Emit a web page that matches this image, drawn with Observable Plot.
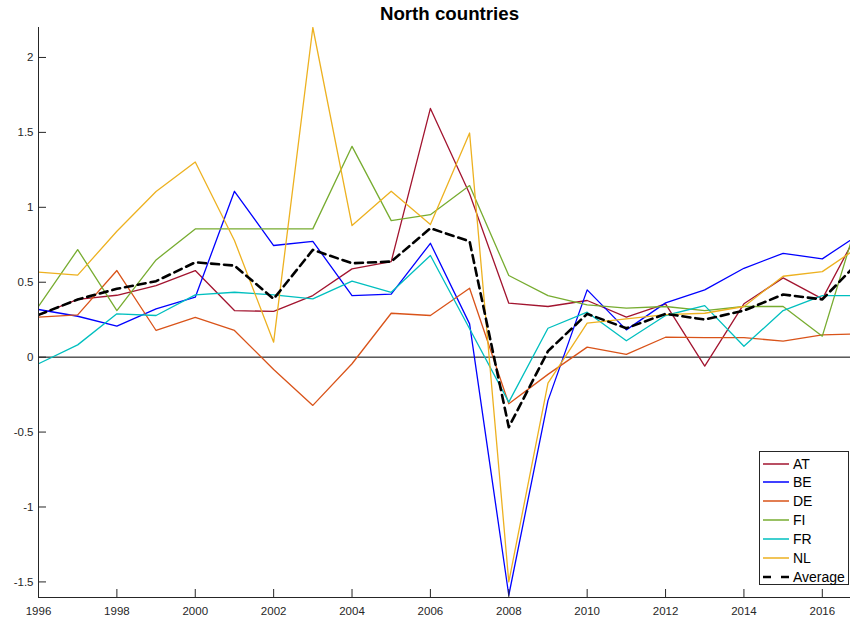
<!DOCTYPE html>
<html>
<head>
<meta charset="utf-8">
<script src="https://cdn.jsdelivr.net/npm/d3@7"></script>
<script src="https://cdn.jsdelivr.net/npm/@observablehq/plot@0.6"></script>
<style>
  html, body { margin: 0; padding: 0; background: #fff; overflow: hidden; }
  #wrap { position: relative; width: 850px; height: 621px; overflow: hidden; font-family: "Liberation Sans", Arial, Helvetica, sans-serif; }
  #chart { position: absolute; left: 0; top: 0; width: 862px; }
  #chart svg { max-width: none !important; }
  #title { position: absolute; top: 3px; left: 38px; width: 823px; text-align: center; font-weight: bold; font-size: 18.7px; color: #000; }
  #legend { position: absolute; left: 759px; top: 451px; width: 88px; height: 132px; border: 1px solid #262626; background: #fff; }
  .lg-row { position: absolute; left: 0; height: 19px; display: flex; align-items: center; font-size: 14px; color: #000; }
  .lg-row svg { margin-left: 3px; margin-right: 4px; }
</style>
</head>
<body>
<div id="wrap">
  <div id="chart"></div>
  <div id="title">North countries</div>
  <div id="legend"></div>
</div>
<script>
const years = d3.range(1996, 2018);
const seriesNames = ["AT", "BE", "DE", "FI", "FR", "NL", "Average"];
const seriesColors = ["#A2142F", "#0000FF", "#D95319", "#77AC30", "#00BFBF", "#EDB120", "#000000"];

const AT  = [0.28, 0.385, 0.413, 0.478, 0.578, 0.311, 0.305, 0.411, 0.589, 0.638, 1.66, 1.09, 0.36, 0.338, 0.378, 0.267, 0.356, -0.06, 0.356, 0.529, 0.389, 0.88];
const BE  = [0.318, 0.273, 0.207, 0.322, 0.40, 1.107, 0.745, 0.773, 0.411, 0.42, 0.76, 0.222, -1.589, -0.29, 0.449, 0.182, 0.362, 0.449, 0.593, 0.693, 0.656, 0.83];
const DE  = [0.267, 0.282, 0.578, 0.178, 0.265, 0.178, -0.082, -0.322, -0.044, 0.293, 0.278, 0.46, -0.311, -0.115, 0.067, 0.018, 0.133, 0.13, 0.13, 0.107, 0.149, 0.155];
const FI  = [0.338, 0.718, 0.311, 0.649, 0.856, 0.856, 0.856, 0.856, 1.407, 0.911, 0.951, 1.145, 0.545, 0.411, 0.349, 0.327, 0.338, 0.311, 0.338, 0.338, 0.14, 1.0];
const FR  = [-0.044, 0.082, 0.289, 0.278, 0.416, 0.433, 0.416, 0.389, 0.507, 0.433, 0.678, 0.19, -0.3, 0.193, 0.3, 0.109, 0.278, 0.344, 0.073, 0.311, 0.411, 0.411];
const NL  = [0.567, 0.547, 0.84, 1.105, 1.302, 0.778, 0.1, 2.2, 0.878, 1.107, 0.885, 1.496, -1.5, -0.173, 0.227, 0.256, 0.284, 0.293, 0.338, 0.54, 0.571, 0.748];
const Average = [0.282, 0.385, 0.456, 0.507, 0.633, 0.611, 0.389, 0.716, 0.627, 0.638, 0.86, 0.773, -0.467, 0.04, 0.289, 0.193, 0.289, 0.251, 0.311, 0.418, 0.385, 0.655];

const xTicks = [1996, 1998, 2000, 2002, 2004, 2006, 2008, 2010, 2012, 2014, 2016];
const yTicks = [-1.5, -1, -0.5, 0, 0.5, 1, 1.5, 2];

const valuesBy = {AT, BE, DE, FI, FR, NL, Average};
const rows = [];
for (const name of seriesNames) {
  valuesBy[name].forEach((v, i) => rows.push({series: name, year: years[i], value: v}));
}
const countryRows = rows.filter(d => d.series !== "Average");
const avgRows = rows.filter(d => d.series === "Average");

const axisColor = "#262626";

const plot = Plot.plot({
  width: 862,
  height: 621,
  marginLeft: 38,
  marginRight: 1,
  marginTop: 27,
  marginBottom: 24,
  style: {fontFamily: "'Liberation Sans', Arial, Helvetica, sans-serif", fontSize: "11.5px", color: axisColor, background: "transparent", maxWidth: "none"},
  x: {domain: [1996, 2017], axis: null},
  y: {domain: [-1.604, 2.2], axis: null},
  color: {domain: seriesNames, range: seriesColors},
  marks: [
    Plot.ruleY([0], {stroke: "#000", strokeWidth: 1}),
    Plot.lineY(countryRows, {x: "year", y: "value", z: "series", stroke: "series", strokeWidth: 1.3, clip: true}),
    Plot.lineY(avgRows, {x: "year", y: "value", stroke: "#000", strokeWidth: 2.6, strokeDasharray: "8,5", clip: true}),
    Plot.ruleX([1996], {stroke: axisColor, strokeWidth: 1}),
    Plot.ruleY([-1.604], {stroke: axisColor, strokeWidth: 1}),
    Plot.axisY({ticks: yTicks, tickFormat: d => String(d), tickSize: -8, tickPadding: 13, stroke: axisColor, fill: axisColor, label: null}),
    Plot.axisX({ticks: xTicks, tickFormat: d => String(d), tickSize: -8, tickPadding: 17, stroke: axisColor, fill: axisColor, label: null})
  ]
});
plot.style.maxWidth = "none";
document.getElementById("chart").appendChild(plot);

// Legend
const legend = document.getElementById("legend");
seriesNames.forEach((name, i) => {
  const row = document.createElement("div");
  row.className = "lg-row";
  row.style.top = (2 + i * 18.9) + "px";
  const isAvg = name === "Average";
  row.innerHTML = `<svg width="26" height="6"><line x1="0" y1="3" x2="26" y2="3" stroke="${seriesColors[i]}" stroke-width="${isAvg ? 2.6 : 1.5}" ${isAvg ? 'stroke-dasharray="8,10"' : ''}/></svg><span>${name}</span>`;
  legend.appendChild(row);
});
</script>
</body>
</html>
